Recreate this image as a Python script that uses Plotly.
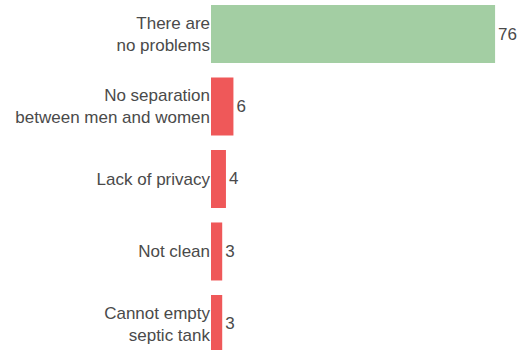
import plotly.graph_objects as go

categories = ["There are<br>no problems", "No separation<br>between men and women",
              "Lack of privacy", "Not clean", "Cannot empty<br>septic tank"]
values = [76, 6, 4, 3, 3]
colors = ["#a3cea3", "#ef5859", "#ef5859", "#ef5859", "#ef5859"]

FONT = "Liberation Sans, Arial, sans-serif"
fig = go.Figure(go.Bar(
    x=values, y=categories, orientation="h",
    marker=dict(color=colors, line=dict(width=0)),
    text=[str(v) for v in values], textposition="outside",
    textfont=dict(size=17, color="#4a4a4a", family=FONT),
    cliponaxis=False,
))
fig.update_layout(
    width=519, height=350,
    margin=dict(l=211, r=0, t=0, b=0),
    plot_bgcolor="white", paper_bgcolor="white",
    bargap=0.2, showlegend=False,
    font=dict(family=FONT, size=17, color="#4a4a4a"),
)
fig.update_xaxes(range=[0, 82.4], visible=False)
fig.update_yaxes(range=[4.359, -0.469], showgrid=False, showline=False, ticks="",
                 ticklabelstandoff=0, tickfont=dict(size=17, color="#4a4a4a"))
fig.write_html("out.html", config={"displayModeBar": False},
               post_script="document.body.style.margin='0';")
